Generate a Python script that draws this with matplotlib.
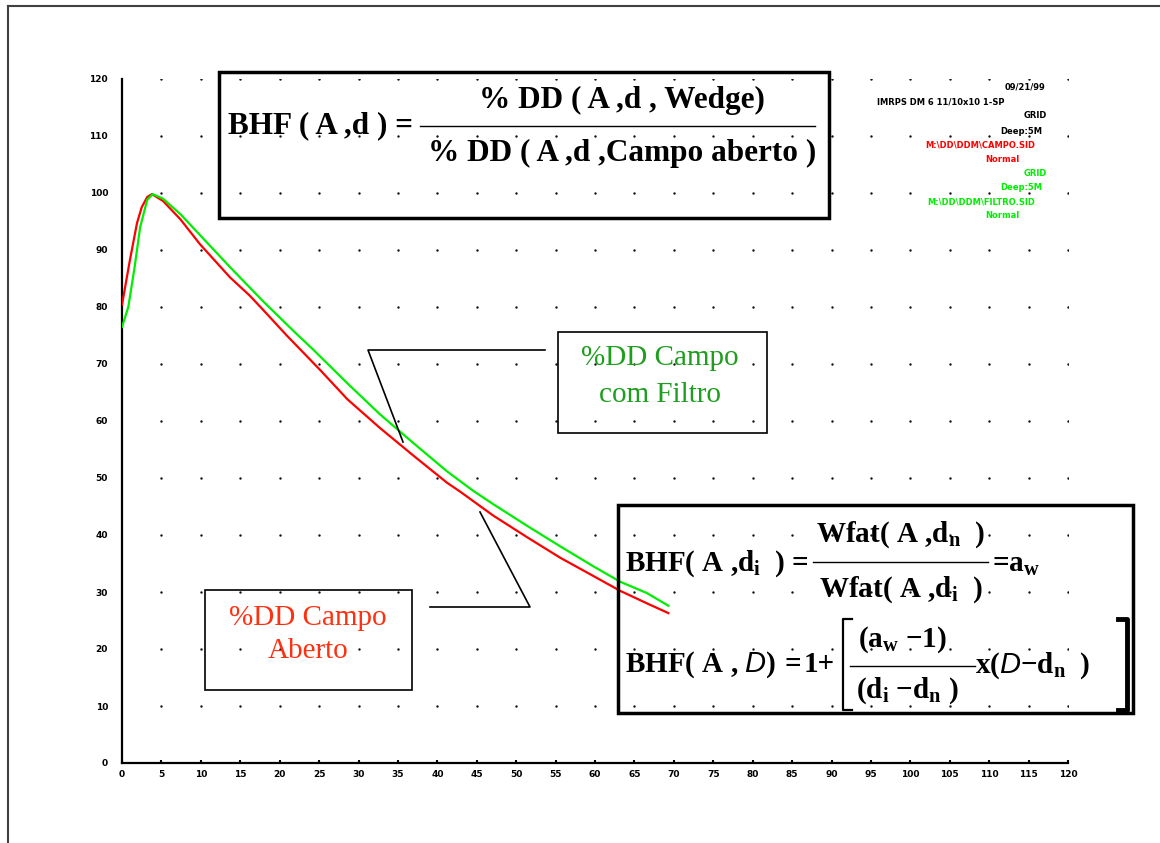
import numpy as np
import matplotlib.pyplot as plt
from matplotlib.patches import Rectangle
from matplotlib.lines import Line2D

plt.rcParams['mathtext.fontset'] = 'custom'
plt.rcParams['mathtext.rm'] = 'Liberation Serif:bold'
plt.rcParams['mathtext.it'] = 'Liberation Serif:bold'
plt.rcParams['mathtext.bf'] = 'Liberation Serif:bold'
plt.rcParams['mathtext.sf'] = 'Liberation Sans:italic'

# depth values
x_aberto = [0, 1.0, 1.9, 2.5, 3.2, 3.8, 5.2, 7.4, 9.9, 13.7, 16.2, 17.9, 20.9, 25.1,
            28.6, 32.7, 36.9, 41.2, 42.9, 47.1, 51.4, 55.6, 59.8, 63.2, 66.6, 69.3]
y_aberto = [80.4, 88.2, 94.7, 97.5, 99.3, 99.8, 98.6, 95.4, 91.0, 85.2, 82.0, 79.5, 75.0, 69.0,
            63.8, 58.8, 54.0, 49.2, 47.6, 43.4, 39.6, 36.0, 32.8, 30.2, 28.0, 26.3]

x_filtro = [0, 0.8, 1.6, 2.3, 3.2, 3.9, 5.2, 7.4, 9.5, 13.7, 17.9, 22.2, 24.2, 28.6, 32.7,
            36.9, 41.2, 44.5, 47.1, 51.4, 55.6, 59.8, 63.2, 66.6, 69.3]
y_filtro = [76.5, 80.0, 87.0, 94.0, 98.8, 99.8, 99.0, 96.3, 93.2, 87.0, 81.0, 75.2, 72.6, 66.6, 61.2,
            56.2, 51.2, 47.8, 45.4, 41.6, 38.0, 34.5, 31.8, 29.8, 27.6]

x_ticks = list(range(0, 125, 5))
y_ticks = list(range(0, 130, 10))

W, H = 1160, 843


def fx(x):
    return x / W


def fy(y):
    return 1 - y / H


fig = plt.figure(figsize=(11.6, 8.43), dpi=100)
fig.patch.set_facecolor('white')

# outer frame (only left and top are visible)
fig.add_artist(Line2D([fx(8), fx(8)], [fy(6), fy(843)], color='#404040', lw=1.5))
fig.add_artist(Line2D([fx(8), fx(1160)], [fy(6), fy(6)], color='#404040', lw=1.5))

ax = fig.add_axes([fx(122), fy(763), 946 / W, 684 / H])
ax.set_xlim(0, 120)
ax.set_ylim(0, 120)
for s in ['top', 'right']:
    ax.spines[s].set_visible(False)
for s in ['left', 'bottom']:
    ax.spines[s].set_linewidth(1.6)
ax.set_xticks(x_ticks)
ax.set_yticks(y_ticks)
ax.set_xticklabels([str(v) for v in x_ticks], fontsize=6.5, fontweight='bold')
ax.set_yticklabels([str(v) for v in y_ticks], fontsize=6.5, fontweight='bold')
ax.tick_params(axis='x', direction='in', length=2, width=1.5, pad=5)
ax.tick_params(axis='y', length=0, pad=10)

# dotted grid
gx, gy = np.meshgrid(x_ticks[1:], y_ticks[1:])
ax.scatter(gx.ravel(), gy.ravel(), s=3, color='#101010', lw=0, zorder=1)

ax.plot(x_aberto, y_aberto, color='#ff0000', lw=1.6, zorder=3)
ax.plot(x_filtro, y_filtro, color='#00ee00', lw=1.6, zorder=4)


def box(x0, y0, x1, y1, lw):
    fig.add_artist(Rectangle((fx(x0), fy(y1)), (x1 - x0) / W, (y1 - y0) / H,
                             fill=False, edgecolor='black', lw=lw, zorder=5))


def line(xs, ys, lw=1.2):
    fig.add_artist(Line2D([fx(v) for v in xs], [fy(v) for v in ys], color='black', lw=lw, zorder=6))


def txt(x, y, s, size, ha='center', color='black', weight='bold', family='Liberation Serif'):
    fig.text(fx(x), fy(y), s, fontsize=size, ha=ha, va='center', color=color,
             fontweight=weight, family=family, zorder=7)


# formula box 1
box(219, 72, 829, 218, 2.5)
txt(228, 126, 'BHF ( A ,d ) =', 22.5, ha='left')
txt(622, 100, '% DD ( A ,d , Wedge)', 22.5)
line([420, 815], [126, 126], 1.0)
txt(622, 153, '% DD ( A ,d ,Campo aberto )', 22.5)

# label boxes and leaders
box(558, 332, 767, 433, 1.2)
txt(660, 358, '%DD Campo', 21, color='#1e9e1e', weight='normal')
txt(660, 395, 'com Filtro', 21, color='#1e9e1e', weight='normal')
line([545, 368, 403], [350, 350, 442])

box(205, 590, 412, 690, 1.2)
txt(308, 618, '%DD Campo', 21, color='#ff3010', weight='normal')
txt(308, 651, 'Aberto', 21, color='#ff3010', weight='normal')
line([430, 530, 480], [607, 607, 512])

# formula box 2
box(618, 505, 1133, 713, 2.5)
txt(625, 564, 'BHF( A ,d$_i$  ) =', 21, ha='left')
txt(901, 535, 'Wfat( A ,d$_n$  )', 21)
line([813, 988], [562, 562], 1.0)
txt(901, 590, 'Wfat( A ,d$_i$  )', 21)
txt(992, 564, '=a$_w$', 21, ha='left')

txt(625, 665, r'BHF( A , $\mathsf{D}$)', 21, ha='left')
txt(793, 665, '=', 21)
txt(804, 665, '1+', 21, ha='left')
line([852, 843, 843, 852], [619, 619, 710, 710], 1.6)
line([1118, 1127, 1127, 1118], [619, 619, 710, 710], 3.5)
txt(902, 640, '(a$_w$ −1)', 21)
line([850, 975], [666, 666], 1.0)
txt(907, 691, '(d$_i$ −d$_n$ )', 21)
txt(975, 666, r'x($\mathsf{D}$−d$_n$  )', 21, ha='left')

# info block top right
info = [
    (1045, 87, '09/21/99', 'black', 'right'),
    (877, 102, 'IMRPS DM 6 11/10x10 1-SP', 'black', 'left'),
    (1047, 116, 'GRID', 'black', 'right'),
    (1042, 131, 'Deep:5M', 'black', 'right'),
    (1035, 145, 'M:\\DD\\DDM\\CAMPO.SID', '#ff0000', 'right'),
    (1020, 159, 'Normal', '#ff0000', 'right'),
    (1047, 174, 'GRID', '#00ee00', 'right'),
    (1042, 188, 'Deep:5M', '#00ee00', 'right'),
    (1035, 202, 'M:\\DD\\DDM\\FILTRO.SID', '#00ee00', 'right'),
    (1020, 216, 'Normal', '#00ee00', 'right'),
]
for x, y, s, c, ha in info:
    txt(x, y, s, 6, ha=ha, color=c, family='DejaVu Sans')

fig.savefig('out.png', dpi=100)
